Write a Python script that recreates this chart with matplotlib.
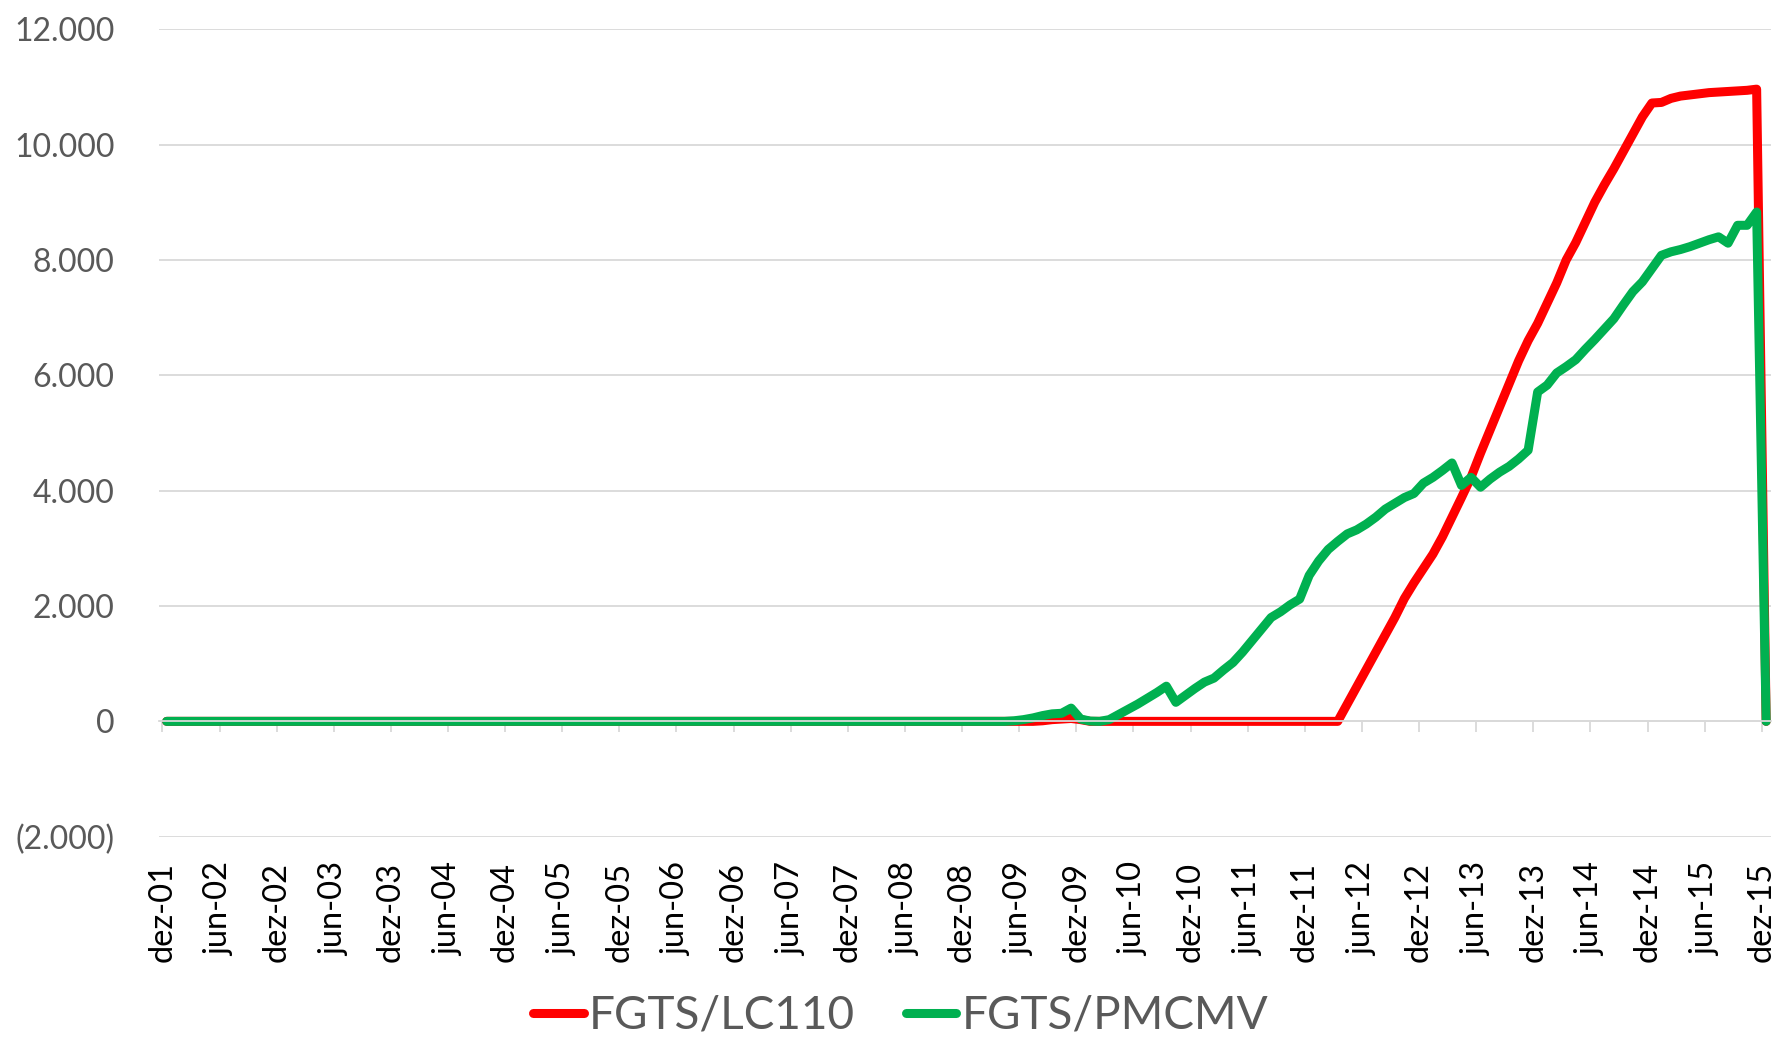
import numpy as np
import matplotlib.pyplot as plt
from matplotlib.ticker import FuncFormatter

plt.rcParams['font.family'] = ['Lato', 'DejaVu Sans']

# monthly series, dez-01 .. dez-15 (169 months)
lc110 = ([0] * 92 + [10, 30, 40, 50, 30] + [0] * 27 +
         [300, 600, 900, 1200, 1500, 1800, 2130, 2400, 2650, 2900,
          3200, 3540, 3880, 4230, 4650, 5050, 5450, 5850, 6250, 6600,
          6900, 7250, 7600, 8000, 8300, 8650, 9000, 9300, 9580, 9880,
          10180, 10480, 10720, 10730, 10800, 10840, 10860, 10880, 10900, 10910,
          10920, 10930, 10940, 10960, 0])

pmcmv = ([0] * 89 +
         [10, 30, 60, 100, 130, 140, 230, 40, 5, 0,
          30, 120, 210, 300, 400, 500, 610, 330, 450, 570,
          680, 750, 890, 1020, 1200, 1400, 1600, 1800, 1900, 2020,
          2120, 2530, 2780, 2980, 3120, 3250, 3320, 3420, 3540, 3680,
          3780, 3880, 3950, 4130, 4230, 4350, 4480, 4090, 4230, 4060,
          4200, 4320, 4420, 4550, 4700, 5710, 5830, 6040, 6150, 6270,
          6450, 6620, 6800, 6980, 7220, 7450, 7620, 7850, 8080, 8140,
          8180, 8230, 8290, 8350, 8400, 8290, 8600, 8600, 8830, 0])

tick_labels = ['dez-01', 'jun-02', 'dez-02', 'jun-03', 'dez-03', 'jun-04', 'dez-04',
               'jun-05', 'dez-05', 'jun-06', 'dez-06', 'jun-07', 'dez-07', 'jun-08',
               'dez-08', 'jun-09', 'dez-09', 'jun-10', 'dez-10', 'jun-11', 'dez-11',
               'jun-12', 'dez-12', 'jun-13', 'dez-13', 'jun-14', 'dez-14', 'jun-15',
               'dez-15']

months = np.arange(len(lc110))
ticks = np.arange(0, len(lc110), 6) - 0.45

fig = plt.figure(figsize=(17.87, 10.42), dpi=100)
ax = fig.add_axes([0.089, 0.197, 0.902, 0.775])

ax.plot(months, lc110, color='#FF0000', lw=6.5, solid_capstyle='round',
        solid_joinstyle='round', label='FGTS/LC110')
ax.plot(months, pmcmv, color='#00B050', lw=6.5, solid_capstyle='round',
        solid_joinstyle='round', label='FGTS/PMCMV')

ax.set_xlim(-0.8, 168.5)
ax.set_ylim(-2000, 12000)
ax.set_yticks(np.arange(-2000, 12001, 2000))


def fmt(v, pos):
    s = f"{abs(v):,.0f}".replace(',', '.')
    return f"({s})" if v < 0 else s


ax.yaxis.set_major_formatter(FuncFormatter(fmt))
ax.tick_params(axis='y', length=0, pad=32, labelsize=23, labelcolor='#595959')
ax.yaxis.grid(True, color='#d9d9d9', lw=1.3)
ax.set_axisbelow(True)

for s in ['top', 'right', 'left']:
    ax.spines[s].set_visible(False)

# axis line with tick marks at zero
ax.spines['bottom'].set_position(('data', 0))
ax.spines['bottom'].set_color('#d9d9d9')
ax.spines['bottom'].set_linewidth(1.3)
ax.set_xticks(ticks)
ax.tick_params(axis='x', direction='out', length=8, width=1.3, color='#d9d9d9',
               labelbottom=False)

# labels at the bottom of the plot area
sec = ax.secondary_xaxis('bottom')
sec.set_xticks(ticks)
sec.set_xticklabels(tick_labels, rotation=90)
sec.tick_params(length=0, pad=18, labelsize=23.5, labelcolor='black')
sec.spines['bottom'].set_visible(False)

fig.legend(loc='center', bbox_to_anchor=(0.504, 0.025), ncol=2, frameon=False,
           fontsize=33, labelcolor='#595959', handlelength=1.1,
           handletextpad=0.12, columnspacing=1.1)

fig.savefig('out.png', dpi=100)
